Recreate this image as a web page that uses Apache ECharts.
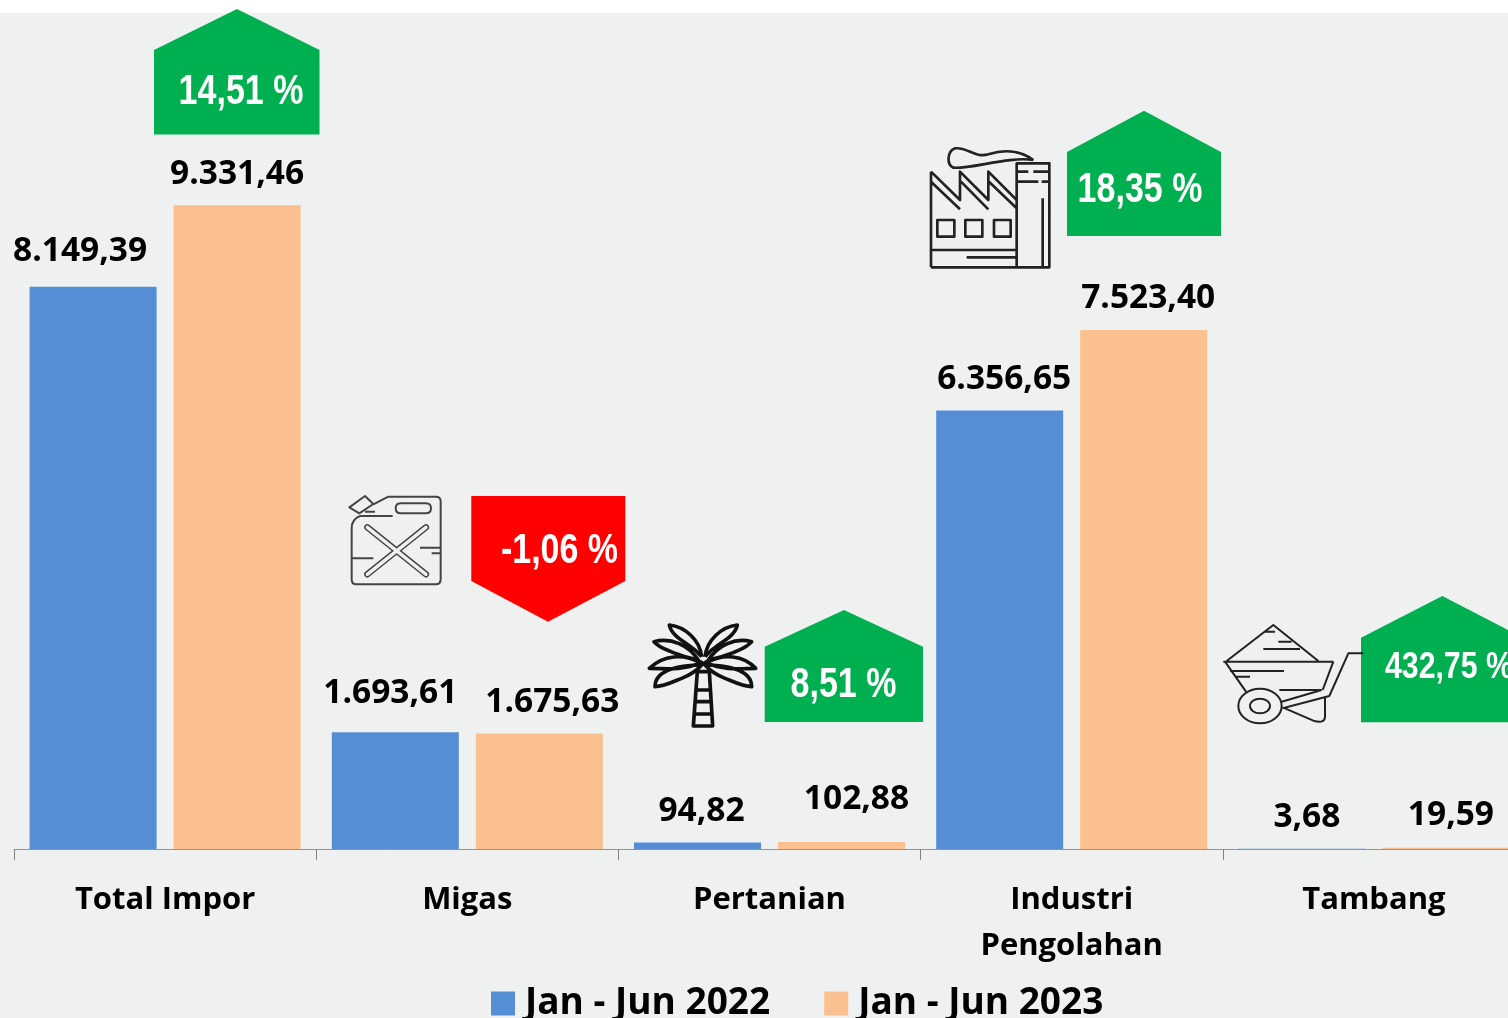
<!DOCTYPE html>
<html>
<head>
<meta charset="utf-8">
<title>Impor Jan - Jun</title>
<script src="https://cdn.jsdelivr.net/npm/echarts@6/dist/echarts.min.js"></script>
<style>
  html, body { margin: 0; padding: 0; background: #fff; overflow: hidden; }
  /* last category runs past the right edge of the picture, so the chart is wider than the page */
  #main { width: 1525px; height: 1018px; }
</style>
</head>
<body>
<div id="main"></div>
<script>
// data
const categories = ['Total Impor', 'Migas', 'Pertanian', 'Industri\nPengolahan', 'Tambang']
const seriesNames = ['Jan - Jun 2022', 'Jan - Jun 2023']
const values2022 = [8149.39, 1693.61, 94.82, 6356.65, 3.68]
const values2023 = [9331.46, 1675.63, 102.88, 7523.40, 19.59]
const changeLabels = ['14,51 %', '-1,06 %', '8,51 %', '18,35 %', '432,75 %']

// label nudges, px, per bar
const shift2022 = [[-13, -18], [-5, -22], [4, -14], [4.5, -14], [5, -14]]
const shift2023 = [[0, -14], [13, -14], [15, -25], [4.5, -14], [5, -15]]

const colors = ['#558ed5', '#fac090']
const bgColor = '#eff1f0'
const labelFont = '"Open Sans", "Noto Sans", sans-serif'
const badgeFont = '"Liberation Sans", sans-serif'

const idNumber = new Intl.NumberFormat('id-ID', { minimumFractionDigits: 2, maximumFractionDigits: 2 })

function barData(values, shifts) {
  return values.map((v, i) => ({ value: v, label: { offset: shifts[i] }}))
}

function barSeries(name, values, shifts, color) {
  return {
    name: name,
    type: 'bar',
    barWidth: 127,
    barGap: '13.4%',
    itemStyle: { color: color },
    label: {
      show: true,
      position: 'top',
      distance: 0,
      lineHeight: 34,
      color: '#000',
      fontFamily: labelFont,
      fontWeight: 'bold',
      fontSize: 33.5,
      formatter: (p) => idNumber.format(p.value)
    },
    data: barData(values, shifts)
  }
}

// arrow badge: up = house shape, down = pointing shape
function badge(points, color, text, tx, ty, align, size, squeeze) {
  return [
    { type: 'polygon', shape: { points: points }, style: { fill: color }},
    { type: 'text', x: tx, y: ty + 2.5, z: 1, scaleX: squeeze || 0.81, style: {
      text: text, fill: '#fff', align: align || 'center', verticalAlign: 'middle',
      font: 'bold ' + (size || 42) + 'px ' + badgeFont
    }}
  ]
}

// icons are traced in 3x crop space, so scale down by 3 at (ox, oy)
function icon(ox, oy, d, stroke, lineWidth, cap) {
  return {
    type: 'path',
    x: ox,
    y: oy,
    scaleX: 1 / 3,
    scaleY: 1 / 3,
    shape: { pathData: 'M0 0M900 900' + d, x: 0, y: 0, width: 900, height: 900, layout: 'cover' },
    style: { fill: 'none', stroke: stroke, lineWidth: lineWidth, lineCap: cap || 'butt', lineJoin: 'round' }
  }
}

const factory = 'M33 502H388V190H290V502' +
  'M33 215V502M33 215L120 300V215L205 300V215L290 300' +
  'M33 245L120 328M123 245L205 328M207 245L290 325' +
  'M52 360H103V410H52ZM136 360H187V410H136ZM222 360H272V410H222Z' +
  'M33 450H290M140 472H290' +
  'M290 215H325M340 215H388M290 245H355M365 245H388M368 295V500' +
  'M340 180C300 150 250 148 205 163C165 175 140 140 105 145C80 155 80 195 100 203C150 208 270 168 340 180'

const jerrycan = 'M175 50H318Q332 50 332 64V298Q332 313 318 313H78Q65 313 65 298V145Q65 118 90 108' +
  'M130 73L175 50M58 82L105 48L130 72L88 100Z' +
  'M105 95H135M90 108H188' +
  'M212 70H288Q303 70 303 85Q303 100 288 100H212Q197 100 197 85Q197 70 212 70Z' +
  'M270 203H330M305 220H330M65 235H130'
const jerrycanCross = 'M112 142L288 283M288 142L112 283'

const palm = 'M185 170C180 120 135 80 88 75C92 100 120 118 145 135C160 145 175 158 185 170' +
  'M175 180C145 135 95 112 42 125C60 145 80 148 100 158C125 168 150 175 175 180' +
  'M180 188C130 160 70 165 28 205C60 205 85 208 115 205C140 203 160 198 180 188' +
  'M185 195C130 195 45 205 45 260C70 260 100 245 125 235C150 225 170 212 185 195' +
  'M195 170C200 120 245 80 292 75C288 100 260 118 235 135C220 145 205 158 195 170' +
  'M205 180C235 135 285 112 335 125C318 145 300 148 280 158C255 168 230 175 205 180' +
  'M200 188C250 160 310 165 347 205C320 205 295 208 265 205C240 203 220 198 200 188' +
  'M195 195C250 195 335 205 335 260C310 260 280 245 255 235C230 225 210 212 195 195' +
  'M172 215L160 378H218L208 215Z' +
  'M166 270H212M163 305H214M161 342H216' +
  'M172 180L205 200M208 180L175 200'

const barrow = 'M50 213L190 105L325 213M40 215H370M45 215L108 305M370 215L338 300' +
  'M165 125H195M205 155H245M160 177H270M60 243H222M78 260H120M208 300H335' +
  'M85 348A65 52 0 1 0 215 348A65 52 0 1 0 85 348' +
  'M120 348A30 22 0 1 0 180 348A30 22 0 1 0 120 348' +
  'M215 335L335 300M218 355L358 318L415 190H460' +
  'M225 355L310 392Q345 402 345 380V322'

const graphics = [
  { type: 'rect', z: -10, shape: { x: 0, y: 13, width: 1525, height: 1005 }, style: { fill: bgColor }},
  ...badge([[154, 50], [237, 9], [319.5, 50], [319.5, 134.5], [154, 134.5]], '#00b050', changeLabels[0], 241, 90),
  ...badge([[471.3, 496], [625.3, 496], [625.3, 581], [548, 621.7], [471.3, 581]], '#ff0000', changeLabels[1], 559.5, 549),
  ...badge([[764.7, 646.7], [844, 610], [923, 646.7], [923, 722], [764.7, 722]], '#00b050', changeLabels[2], 843.5, 683),
  ...badge([[1067, 152], [1144, 110.7], [1221, 152], [1221, 236], [1067, 236]], '#00b050', changeLabels[3], 1140, 188),
  ...badge([[1361, 637.7], [1442.3, 596], [1523, 637.7], [1523, 722.3], [1361, 722.3]], '#00b050', changeLabels[4], 1385, 666, 'left', 36, 0.84)
]

// icons go through a custom series, graphic component has no path type
function renderIcons() {
  return {
    type: 'group',
    children: [
      icon(920, 100, factory, '#222', 8),
      icon(330, 480, jerrycan, '#444', 6),
      icon(330, 480, jerrycanCross, '#444', 19, 'round'),
      icon(330, 480, jerrycanCross, bgColor, 10, 'round'),
      icon(640, 600, palm, '#111', 11),
      icon(1210, 590, barrow, '#222', 6)
    ]
  }
}

const myChart = echarts.init(document.getElementById('main'), null, { renderer: 'canvas' })

myChart.setOption({
  animation: false,
  legend: {
    data: seriesNames,
    left: 491,
    top: 985,
    itemWidth: 24,
    itemHeight: 24,
    itemGap: 54,
    padding: 0,
    icon: 'rect',
    selectedMode: false,
    textStyle: {
      color: '#000',
      fontFamily: labelFont,
      fontWeight: 'bold',
      fontSize: 37,
      padding: [0, 0, 0, 5]
    }
  },
  grid: { left: 14, right: 0, top: 21, height: 828 },
  xAxis: {
    type: 'category',
    data: categories,
    z: 3,
    axisLine: { lineStyle: { color: '#949494', width: 1 }},
    axisTick: { show: true, length: 11, lineStyle: { color: '#808080', width: 1 }},
    axisLabel: {
      color: '#000',
      fontFamily: labelFont,
      fontWeight: 'bold',
      fontSize: 31,
      lineHeight: 46,
      margin: 28,
      interval: 0
    }
  },
  yAxis: {
    type: 'value',
    min: 0,
    max: 12000,
    show: false,
    splitLine: { show: false }
  },
  graphic: { elements: graphics },
  series: [
    barSeries(seriesNames[0], values2022, shift2022, colors[0]),
    barSeries(seriesNames[1], values2023, shift2023, colors[1]),
    {
      name: 'icons',
      type: 'custom',
      coordinateSystem: 'none',
      silent: true,
      renderItem: renderIcons,
      data: [0]
    }
  ]
})
</script>
</body>
</html>
